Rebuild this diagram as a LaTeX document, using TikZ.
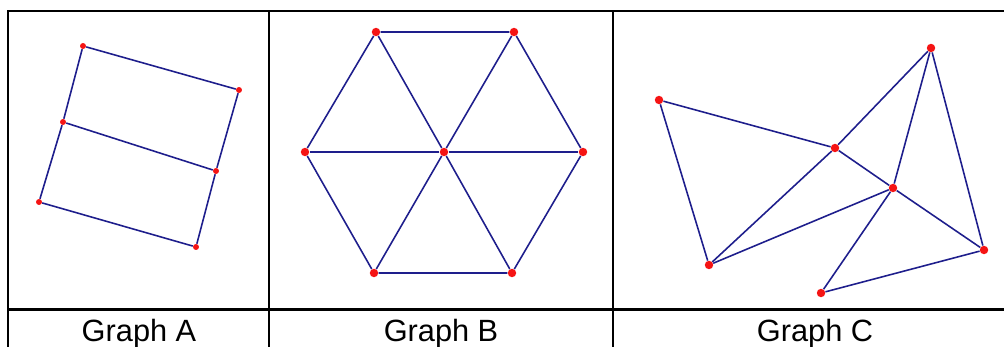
\documentclass[tikz,border=0pt]{standalone}
\usepackage{fontspec}
\setmainfont{Liberation Sans}
\usepackage{tikz}
\usetikzlibrary{positioning}

\definecolor{edgeblue}{RGB}{30,30,140}
\definecolor{dotred}{RGB}{245,20,20}

\tikzset{
    grid line/.style={line width=1.2pt, black},
    edge line/.style={line width=0.9pt, edgeblue},
    small dot/.style={circle, fill=dotred, inner sep=0pt, minimum size=3.4pt},
    big dot/.style={circle, fill=dotred, inner sep=0pt, minimum size=4.8pt},
    caption/.style={anchor=base, font=\fontsize{17.5}{20}\selectfont}
}

\begin{document}
\begin{tikzpicture}[x=0.02cm, y=-0.02cm]
    \useasboundingbox (0,0) rectangle (1004,347);

    % Table frame
    \draw[grid line] (8,347) -- (8,11) -- (1004,11);
    \draw[grid line] (8,309.5) -- (1004,309.5);
    \draw[grid line] (269,11) -- (269,347);
    \draw[grid line] (613,11) -- (613,347);

    % Captions
    \node[caption] (capA) at (139,342) {Graph A};
    \node[caption] (capB) at (441,342) {Graph B};
    \node[caption] (capC) at (815,342) {Graph C};

    % Graph A - ladder
    \node[small dot] (a1) at (83,46) {};
    \node[small dot] (a2) at (239,90) {};
    \node[small dot] (a3) at (63,122) {};
    \node[small dot] (a4) at (216,171) {};
    \node[small dot] (a5) at (39,202) {};
    \node[small dot] (a6) at (196,247) {};
    \draw[edge line] (a1) -- (a2);
    \draw[edge line] (a1) -- (a3);
    \draw[edge line] (a3) -- (a5);
    \draw[edge line] (a2) -- (a4);
    \draw[edge line] (a4) -- (a6);
    \draw[edge line] (a3) -- (a4);
    \draw[edge line] (a5) -- (a6);

    % Graph B - wheel
    \node[big dot] (bc) at (444,152) {};
    \node[big dot] (b1) at (376,32) {};
    \node[big dot] (b2) at (514,32) {};
    \node[big dot] (b3) at (583,152) {};
    \node[big dot] (b4) at (512,273) {};
    \node[big dot] (b5) at (374,273) {};
    \node[big dot] (b6) at (305,152) {};
    \draw[edge line] (b1) -- (b2) -- (b3) -- (b4) -- (b5) -- (b6) -- (b1);
    \foreach \b in {b1,b2,b3,b4,b5,b6}
        \draw[edge line] (bc) -- (\b);

    % Graph C
    \node[big dot] (c1) at (659,100) {};
    \node[big dot] (c2) at (931,48) {};
    \node[big dot] (c3) at (835,148) {};
    \node[big dot] (c4) at (893,188) {};
    \node[big dot] (c5) at (709,265) {};
    \node[big dot] (c6) at (984,250) {};
    \node[big dot] (c7) at (821,293) {};
    \draw[edge line] (c1) -- (c3);
    \draw[edge line] (c1) -- (c5);
    \draw[edge line] (c5) -- (c3);
    \draw[edge line] (c3) -- (c2);
    \draw[edge line] (c3) -- (c4);
    \draw[edge line] (c4) -- (c6);
    \draw[edge line] (c2) -- (c4);
    \draw[edge line] (c4) -- (c7);
    \draw[edge line] (c2) -- (c6);
    \draw[edge line] (c5) -- (c4);
    \draw[edge line] (c7) -- (c6);
\end{tikzpicture}
\end{document}
